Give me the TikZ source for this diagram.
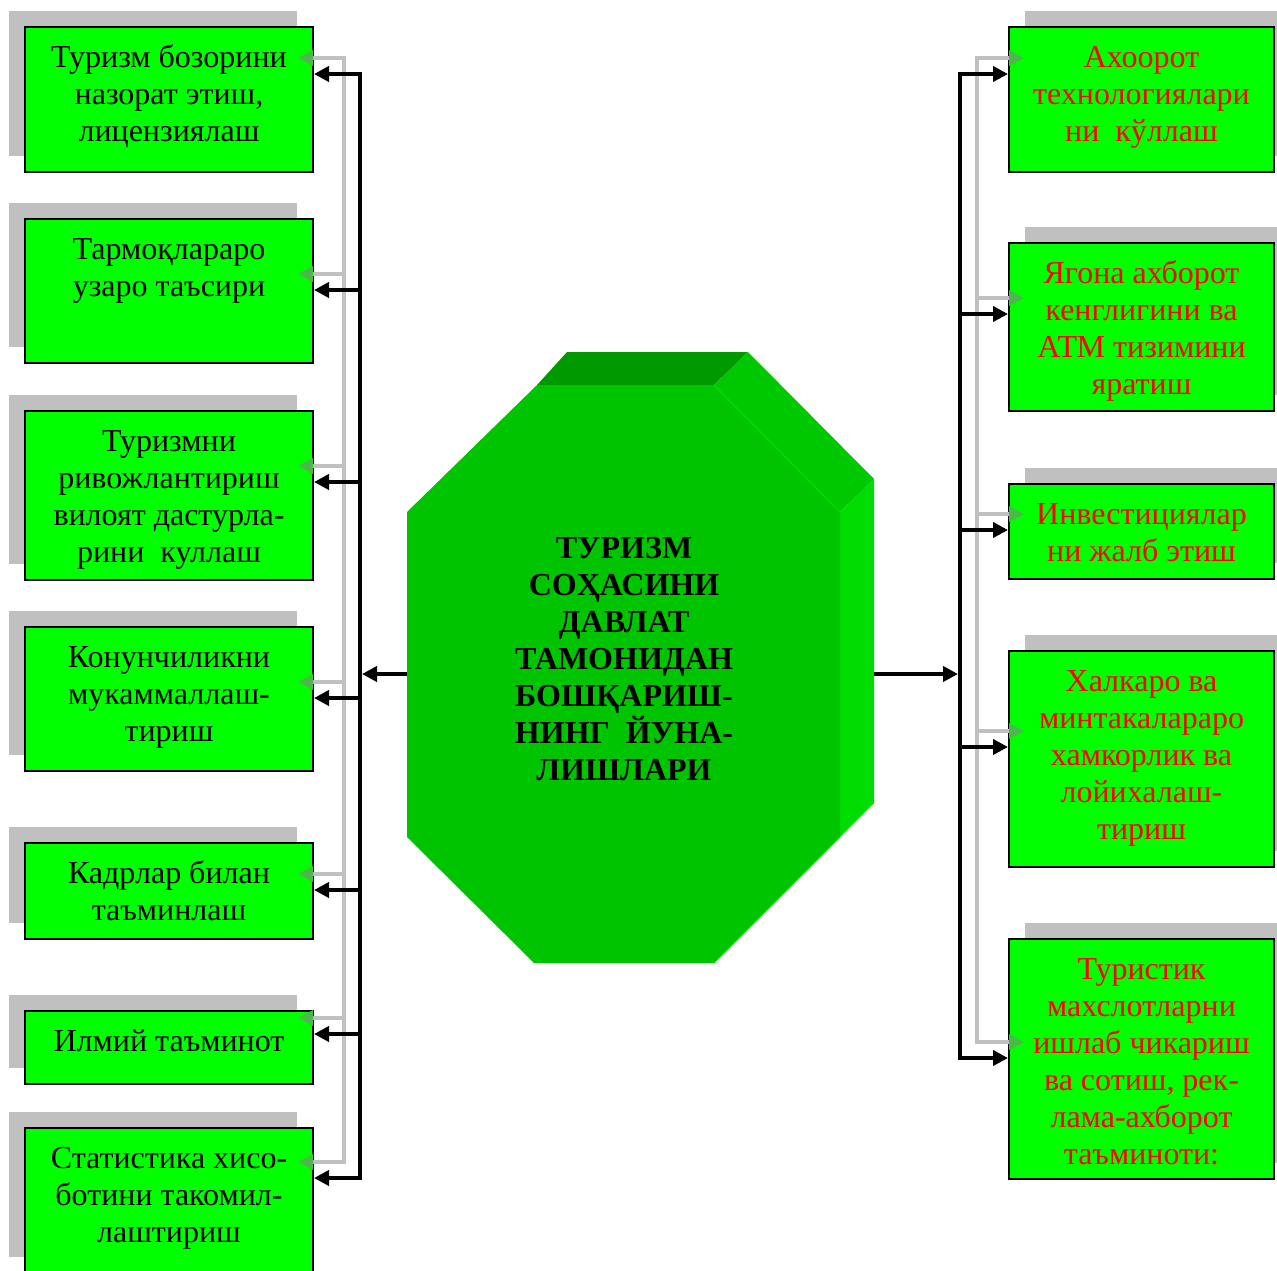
\documentclass[tikz,border=0pt]{standalone}
\usepackage{fontspec}
\setmainfont{Liberation Serif}
\usetikzlibrary{arrows.meta,shadows,calc}
\definecolor{boxgreen}{HTML}{00FF00}
\definecolor{shadowgray}{HTML}{C0C0C0}
\definecolor{shadowtip}{HTML}{4CB84C}
\definecolor{octfront}{HTML}{00C400}
\definecolor{octtop}{HTML}{009900}
\definecolor{octdiag}{HTML}{00C800}
\definecolor{octside}{HTML}{00DD00}
\definecolor{octedge}{HTML}{00E400}
\definecolor{redtext}{HTML}{FF0000}
\tikzset{
  box/.style={draw=black, line width=2pt, fill=boxgreen, inner sep=0pt, anchor=north west},
  lbox/.style={box, minimum width=288pt, general shadow={fill=shadowgray, shadow xshift=-16pt, shadow yshift=16pt}},
  rbox/.style={box, minimum width=265pt, general shadow={fill=shadowgray, shadow xshift=16pt, shadow yshift=16pt}},
  txt/.style={font=\fontsize{32}{37}\selectfont, align=center, inner sep=0pt, anchor=north},
  rtxt/.style={txt, text=redtext},
  blk/.style={line width=4pt, draw=black},
  blkarrow/.style={blk, -{Triangle[length=15pt,width=15pt]}},
  shd/.style={line width=4pt, draw=shadowgray},
  shdarrow/.style={shd, -{Triangle[length=15pt,width=15pt,color=shadowtip]}},
}
\begin{document}
\begin{tikzpicture}[x=1pt,y=-1pt]
\useasboundingbox (0,0) rectangle (1277,1270);

% ---------- central octagon ----------
\fill[octtop] (537,385) -- (714,385) -- (748,352) -- (567,352) -- cycle;
\fill[octdiag] (714,385) -- (748,352) -- (874,479) -- (840,512) -- cycle;
\fill[octside] (840,512) -- (874,479) -- (874,803) -- (840,837) -- cycle;
\fill[octfront] (537,385) -- (714,385) -- (840,512) -- (840,837) -- (714,963)
  -- (534,963) -- (407,837) -- (407,512) -- cycle;
\draw[octedge, line width=1pt] (714,385) -- (840,512);
\draw[octedge, line width=1pt] (840,837) -- (714,963);
\node (oct) [minimum width=433pt, minimum height=578pt, inner sep=0pt] at (623.5,674) {};
\node[txt, font=\fontsize{32}{37}\selectfont\bfseries] (octtxt) at (624,532)
  {\strut ТУРИЗМ\\СОҲАСИНИ\\ДАВЛАТ\\ТАМОНИДАН\\БОШҚАРИШ-\\НИНГ~ ЙУНА-\\ЛИШЛАРИ};

% ---------- left boxes ----------
\node[lbox, minimum height=145pt] (b1) at (24,26) {};
\node[lbox, minimum height=144pt] (b2) at (24,218) {};
\node[lbox, minimum height=169pt] (b3) at (24,410) {};
\node[lbox, minimum height=144pt] (b4) at (24,626) {};
\node[lbox, minimum height=96pt]  (b5) at (24,842) {};
\node[lbox, minimum height=73pt]  (b6) at (24,1010) {};
\node[lbox, minimum height=145pt] (b7) at (24,1127) {};

\node[txt] (t1) at ([yshift=-15pt]b1.north) {\strut Туризм бозорини\\назорат этиш,\\лицензиялаш};
\node[txt] (t2) at ([yshift=-15pt]b2.north) {\strut Тармоқлараро\\узаро таъсири};
\node[txt] (t3) at ([yshift=-15pt]b3.north) {\strut Туризмни\\ривожлантириш\\вилоят дастурла-\\рини~ куллаш};
\node[txt] (t4) at ([yshift=-15pt]b4.north) {\strut Конунчиликни\\мукаммаллаш-\\тириш};
\node[txt] (t5) at ([yshift=-15pt]b5.north) {\strut Кадрлар билан\\таъминлаш};
\node[txt] (t6) at ([yshift=-15pt]b6.north) {\strut Илмий таъминот};
\node[txt] (t7) at ([yshift=-15pt]b7.north) {\strut Статистика хисо-\\ботини такомил-\\лаштириш};

% ---------- right boxes ----------
\node[rbox, minimum height=145pt] (r1) at (1008,26) {};
\node[rbox, minimum height=168pt] (r2) at (1008,242) {};
\node[rbox, minimum height=95pt]  (r3) at (1008,483) {};
\node[rbox, minimum height=216pt] (r4) at (1008,650) {};
\node[rbox, minimum height=240pt] (r5) at (1008,938) {};

\node[rtxt] (s1) at ([yshift=-15pt]r1.north) {\strut Ахоорот\\технологиялари\\ни~ кўллаш};
\node[rtxt] (s2) at ([yshift=-15pt]r2.north) {\strut Ягона ахборот\\кенглигини ва\\АТМ тизимини\\яратиш};
\node[rtxt] (s3) at ([yshift=-15pt]r3.north) {\strut Инвестициялар\\ни жалб этиш};
\node[rtxt] (s4) at ([yshift=-15pt]r4.north) {\strut Халкаро ва\\минтакалараро\\хамкорлик ва\\лойихалаш-\\тириш};
\node[rtxt] (s5) at ([yshift=-15pt]r5.north) {\strut Туристик\\махслотларни\\ишлаб чикариш\\ва сотиш, рек-\\лама-ахборот\\таъминоти:};

% ---------- shadow connectors (left) ----------
\foreach \i/\y in {1/58,2/274,3/466,4/682,5/874,6/1018,7/1162}{
  \coordinate (ls\i) at (344,\y);
  \draw[shdarrow] (ls\i) -- ($(ls\i -| b\i.east)+(-16,0)$);
}
\draw[shd, line cap=rect] (ls1) -- (ls7);
% ---------- shadow connectors (right) ----------
\foreach \i/\y in {1/58,2/298,3/514,4/731,5/1042}{
  \coordinate (rs\i) at (977,\y);
  \draw[shdarrow] (rs\i) -- ($(rs\i -| r\i.west)+(16,0)$);
}
\draw[shd, line cap=rect] (rs1) -- (rs5);

% ---------- black connectors (left) ----------
\foreach \i/\y in {1/74,2/290,3/482,4/698,5/890,6/1034,7/1178}{
  \coordinate (lj\i) at (360,\y);
  \draw[blkarrow] (lj\i) -- (lj\i -| b\i.east);
}
\draw[blk, line cap=rect] (lj1) -- (lj7);
% ---------- black connectors (right) ----------
\foreach \i/\y in {1/74,2/314,3/530,4/747,5/1058}{
  \coordinate (rj\i) at (960,\y);
  \draw[blkarrow] (rj\i) -- (rj\i -| r\i.west);
}
\draw[blk, line cap=rect] (rj1) -- (rj5);

% ---------- octagon to spines ----------
\coordinate (octR) at (874,674);
\coordinate (lmid) at (362,674);
\coordinate (rmid) at (958,674);
\draw[blkarrow] (oct.west) -- (lmid);
\draw[blkarrow] (octR) -- (rmid);
\end{tikzpicture}
\end{document}
